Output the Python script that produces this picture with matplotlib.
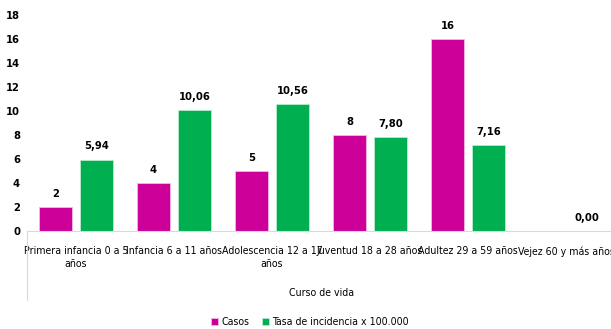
import matplotlib.pyplot as plt
import numpy as np
from matplotlib import font_manager
from matplotlib.lines import Line2D

categorias = ['Primera infancia 0 a 5\naños', 'Infancia 6 a 11 años', 'Adolescencia 12 a 17\naños',
              'Juventud 18 a 28 años', 'Adultez 29 a 59 años', 'Vejez 60 y más años']
casos = [2, 4, 5, 8, 16, np.nan]
tasa = [5.94, 10.06, 10.56, 7.80, 7.16, 0.00]

# pick a narrow font if one is around (the original uses Calibri)
fonts = font_manager.fontManager.ttflist
names = {f.name for f in fonts}
if 'Liberation Sans Narrow' in names:
    plt.rcParams['font.family'] = ['Liberation Sans Narrow', 'DejaVu Sans']
    catsize = 9.5
elif any(f.name == 'DejaVu Sans' and f.stretch == 'condensed' for f in fonts):
    plt.rcParams['font.family'] = ['DejaVu Sans']
    plt.rcParams['font.stretch'] = 'condensed'
    catsize = 7.6
else:
    plt.rcParams['font.family'] = ['Liberation Sans', 'DejaVu Sans']
    catsize = 7.2

fig = plt.figure(figsize=(6.11, 3.29), dpi=100)
ax = fig.add_axes([27 / 611, 98 / 329, 588 / 611, 216 / 329])

x = np.arange(len(categorias))
w = 0.337
off = 0.209
b1 = ax.bar(x - off, casos, w, color='#CC0099', edgecolor='#F2B8E3', linewidth=0.6, label='Casos')
b2 = ax.bar(x + off, tasa, w, color='#00B050', edgecolor='#B8EBCB', linewidth=0.6, label='Tasa de incidencia x 100.000')

for xi, v in zip(x, casos):
    if not np.isnan(v):
        ax.annotate(f'{int(v)}', (xi - off, v), xytext=(0, 6),
                    textcoords='offset points', ha='center', va='bottom', fontsize=8, fontweight='bold')
for xi, v in zip(x, tasa):
    ax.annotate(f'{v:.2f}'.replace('.', ','), (xi + off, v), xytext=(0, 6),
                textcoords='offset points', ha='center', va='bottom', fontsize=8, fontweight='bold')

ax.set_xlim(-0.5, 5.5)
ax.set_ylim(0, 18)
ax.set_yticks(range(0, 19, 2))
ax.set_xticks(x)
ax.set_xticklabels(categorias, fontsize=catsize, linespacing=1.35)
for lbl in ax.get_yticklabels():
    lbl.set_fontweight('bold')
    lbl.set_fontsize(8)
ax.tick_params(axis='y', length=0, pad=5)
ax.tick_params(axis='x', length=0, pad=11)
for s in ['top', 'right', 'left']:
    ax.spines[s].set_visible(False)
ax.spines['bottom'].set_color('#D9D9D9')

# category separator line at left
ax.add_line(Line2D([0, 0], [0, -0.32], transform=ax.transAxes, color='#D9D9D9', lw=0.8, clip_on=False))

ax.set_xlabel('Curso de vida', fontsize=catsize)
ax.xaxis.set_label_coords((322 - 27) / 588, -0.265)

fig.legend(handles=[b1, b2], loc='center', bbox_to_anchor=(310 / 611, 1 - 322 / 329), ncol=2,
           frameon=False, fontsize=catsize, handlelength=0.7, handleheight=0.7, handletextpad=0.3,
           columnspacing=1.2)

fig.savefig('out.png', dpi=100)
